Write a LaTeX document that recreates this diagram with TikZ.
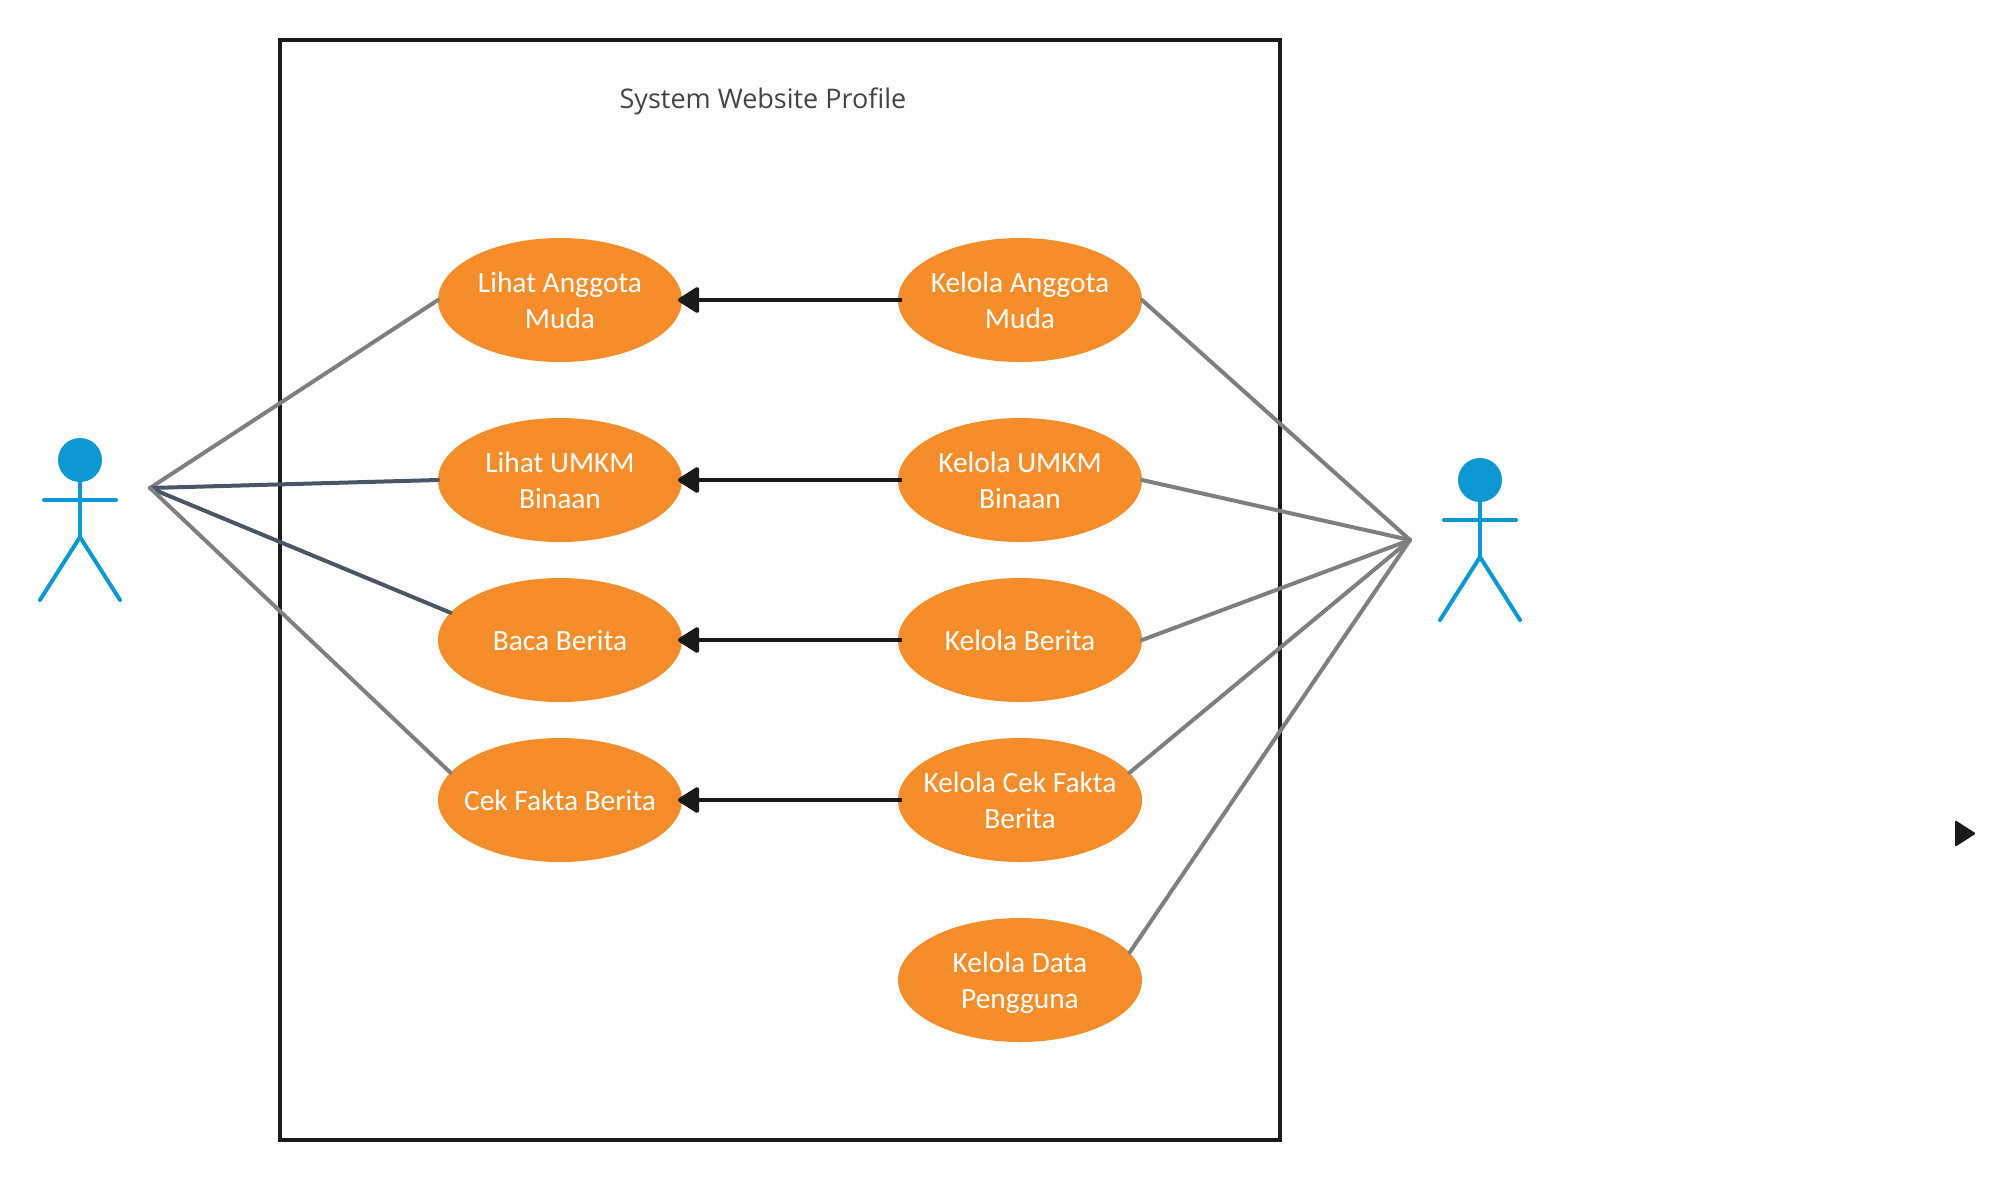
\documentclass[tikz,border=0pt]{standalone}
\usepackage{fontspec}
\setmainfont{Carlito}
\newfontfamily\titlefont{Open Sans}
\usetikzlibrary{arrows.meta,shapes.geometric}
\definecolor{usecase}{HTML}{F68D2B}
\definecolor{actorblue}{HTML}{0C98D2}
\definecolor{linegrey}{HTML}{7F7F7F}
\definecolor{lineslate}{HTML}{4A5568}
\definecolor{inkblack}{HTML}{1A1A1A}
\definecolor{titlegrey}{HTML}{444444}
\tikzset{
  usecasenode/.style={ellipse,fill=usecase,minimum width=122pt,minimum height=62pt,inner sep=-8pt,outer sep=0pt,
    text=white,align=center,font=\fontsize{14.7pt}{18pt}\selectfont},
  actorline/.style={draw=actorblue,line width=2pt,line cap=round},
  assoc/.style={draw=linegrey,line width=2pt,line cap=round},
  assocdark/.style={draw=lineslate,line width=2pt,line cap=round},
  depend/.style={draw=inkblack,line width=2pt,-{Triangle[length=11.5pt,width=14pt,round]},shorten >=-2pt,shorten <=-2pt},
}
\begin{document}
\begin{tikzpicture}[x=0.5pt,y=-0.5pt]
\useasboundingbox (0,0) rectangle (2015,1180);

% system box
\node[draw=inkblack,line width=2pt,minimum width=500pt,minimum height=550pt,inner sep=0pt,outer sep=0pt] (systembox) at (780,590) {};
\node[text=titlegrey,font=\titlefont\fontsize{13.5pt}{16pt}\selectfont] (systemtitle) at (763,101.5) {System Website Profile};

% left column
\node[usecasenode] (lihatanggota) at (560,300) {Lihat Anggota\\Muda};
\node[usecasenode] (lihatumkm) at (560,480) {Lihat UMKM\\Binaan};
\node[usecasenode] (bacaberita) at (560,640) {Baca Berita};
\node[usecasenode] (cekfakta) at (560,800) {Cek Fakta Berita};

% right column
\node[usecasenode] (kelolaanggota) at (1020,300) {Kelola Anggota\\Muda};
\node[usecasenode] (kelolaumkm) at (1020,480) {Kelola UMKM\\Binaan};
\node[usecasenode] (kelolaberita) at (1020,640) {Kelola Berita};
\node[usecasenode] (kelolacek) at (1020,800) {Kelola Cek Fakta\\Berita};
\node[usecasenode] (keloladata) at (1020,980) {Kelola Data\\\smash{Pengguna}};

% depends
\draw[depend] (kelolaanggota) -- (lihatanggota);
\draw[depend] (kelolaumkm) -- (lihatumkm);
\draw[depend] (kelolaberita) -- (bacaberita);
\draw[depend] (kelolacek) -- (cekfakta);

% left actor
\fill[actorblue] (80,460) circle (22);
\draw[actorline] (80,482) -- (80,537);
\draw[actorline] (44,500) -- (116,500);
\draw[actorline] (40,600) -- (80,537) -- (120,600);
\coordinate (lefthub) at (150,488);
\draw[assoc] (lefthub) -- (lihatanggota.west);
\draw[assocdark] (lefthub) -- (lihatumkm.west);
\draw[assocdark] (lefthub) -- (bacaberita.166);
\draw[assoc] (lefthub) -- (cekfakta.166);

% right actor
\fill[actorblue] (1480,480) circle (22);
\draw[actorline] (1480,502) -- (1480,557);
\draw[actorline] (1444,520) -- (1516,520);
\draw[actorline] (1440,620) -- (1480,557) -- (1520,620);
\coordinate (righthub) at (1410,540);
\draw[assoc] (righthub) -- (kelolaanggota.east);
\draw[assoc] (righthub) -- (kelolaumkm.east);
\draw[assoc] (righthub) -- (kelolaberita.east);
\draw[assoc] (righthub) -- (kelolacek.14);
\draw[assoc] (righthub) -- (keloladata.14);

% loose tip
\fill[inkblack,rounded corners=0.75pt] (1955,820) -- (1976,833.5) -- (1955,847) -- cycle;
\end{tikzpicture}
\end{document}
